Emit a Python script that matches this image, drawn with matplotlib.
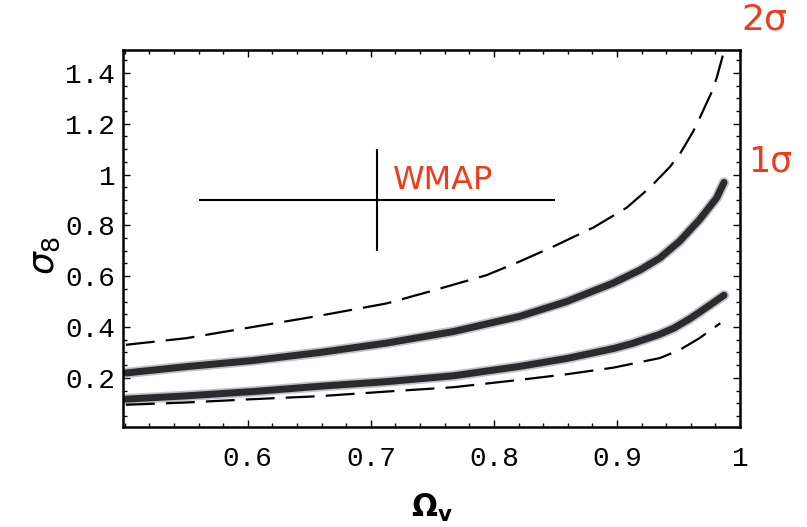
import numpy as np
import matplotlib
matplotlib.use("Agg")
import matplotlib.pyplot as plt
from matplotlib.ticker import MultipleLocator, FixedLocator

# values (x = Omega_v, y = sigma_8)
x_2up = [0.501, 0.550, 0.604, 0.659, 0.713, 0.748, 0.794, 0.821, 0.848, 0.881, 0.908,
         0.927, 0.943, 0.951, 0.962, 0.967, 0.977, 0.981, 0.986]
y_2up = [0.330, 0.356, 0.400, 0.445, 0.493, 0.540, 0.604, 0.658, 0.716, 0.792, 0.870,
         0.950, 1.030, 1.080, 1.170, 1.220, 1.325, 1.380, 1.468]

x_1up = [0.501, 0.550, 0.604, 0.659, 0.713, 0.767, 0.821, 0.859, 0.897, 0.919, 0.935,
         0.951, 0.967, 0.981, 0.987]
y_1up = [0.219, 0.244, 0.268, 0.300, 0.337, 0.382, 0.442, 0.500, 0.573, 0.625, 0.672,
         0.738, 0.822, 0.908, 0.969]

x_1lo = [0.501, 0.550, 0.604, 0.659, 0.713, 0.767, 0.821, 0.859, 0.897, 0.913, 0.934,
         0.946, 0.959, 0.967, 0.976, 0.987]
y_1lo = [0.116, 0.129, 0.146, 0.167, 0.185, 0.208, 0.245, 0.276, 0.315, 0.336, 0.370,
         0.395, 0.432, 0.458, 0.488, 0.525]

x_2lo = [0.501, 0.550, 0.604, 0.659, 0.713, 0.767, 0.821, 0.859, 0.897, 0.935, 0.951,
         0.967, 0.984]
y_2lo = [0.094, 0.103, 0.116, 0.128, 0.146, 0.163, 0.192, 0.214, 0.240, 0.278, 0.310,
         0.356, 0.415]

# WMAP cross
wmap_x, wmap_y = 0.705, 0.90
wmap_xerr, wmap_yerr = 0.145, 0.20

xticks = [0.6, 0.7, 0.8, 0.9, 1.0]
xtick_labels = ["0.6", "0.7", "0.8", "0.9", "1"]
yticks = [0.2, 0.4, 0.6, 0.8, 1.0, 1.2, 1.4]
ytick_labels = ["0.2", "0.4", "0.6", "0.8", "1", "1.2", "1.4"]

red = "#ee3b1c"

fig = plt.figure(figsize=(8.07, 5.27), dpi=100)
ax = fig.add_axes([0.153, 0.190, 0.764, 0.715])

# thick solid 1-sigma curves with a light halo
for xs, ys in ((x_1up, y_1up), (x_1lo, y_1lo)):
    ax.plot(xs, ys, color="#c0c1ca", lw=7.5, solid_capstyle="round", solid_joinstyle="round")
    ax.plot(xs, ys, color="#2b2b2e", lw=5, solid_capstyle="round", solid_joinstyle="round")

# dashed 2-sigma curves
for xs, ys in ((x_2up, y_2up), (x_2lo, y_2lo)):
    ax.plot(xs, ys, color="black", lw=1.6, dashes=(13, 5))

ax.errorbar([wmap_x], [wmap_y], xerr=[wmap_xerr], yerr=[wmap_yerr],
            fmt="none", ecolor="black", elinewidth=1.5, capsize=0)
ax.text(0.718, 0.975, "WMAP", color=red, fontsize=23, ha="left", va="center")

ax.set_xlim(0.499, 1.0)
ax.set_ylim(0.007, 1.49)

mono = "Liberation Mono"
ax.xaxis.set_major_locator(FixedLocator(xticks))
ax.set_xticklabels(xtick_labels, fontfamily=mono, fontsize=20)
ax.xaxis.set_minor_locator(MultipleLocator(0.02))
ax.yaxis.set_major_locator(FixedLocator(yticks))
ax.set_yticklabels(ytick_labels, fontfamily=mono, fontsize=20)
ax.yaxis.set_minor_locator(MultipleLocator(0.05))

ax.tick_params(which="both", direction="in", top=True, right=True, width=1)
ax.tick_params(which="major", length=5)
ax.tick_params(which="minor", length=3)
ax.tick_params(axis="x", which="major", pad=14)
ax.tick_params(axis="y", which="major", pad=6)
for s in ax.spines.values():
    s.set_linewidth(1.8)

fig.text(45 / 807, 1 - 255 / 527, r"$\sigma_8$", rotation=90, fontsize=26,
         ha="center", va="center")
fig.text(432 / 807, 1 - 508 / 527, r"$\mathbf{\Omega}_\mathbf{v}$", fontsize=22,
         ha="center", va="center")

fig.text(764 / 807, 1 - 20 / 527, "2σ", color=red, fontsize=26, ha="center", va="center")
fig.text(770 / 807, 1 - 162 / 527, "1σ", color=red, fontsize=25, ha="center", va="center")

fig.savefig("out.png", dpi=100)
